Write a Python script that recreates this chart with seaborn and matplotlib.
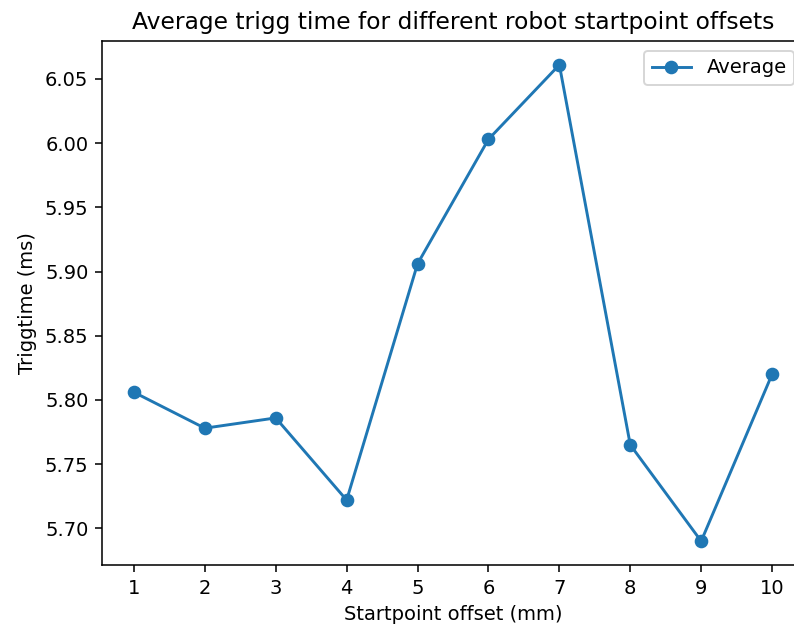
import numpy as np
import pandas as pd
import seaborn as sns
import matplotlib.pyplot as plt

offsets = [1, 2, 3, 4, 5, 6, 7, 8, 9, 10]
avg_trigg = [5.806, 5.778, 5.786, 5.722, 5.906, 6.003, 6.061, 5.765, 5.690, 5.820]

df = pd.DataFrame({"offset": offsets, "trigg": avg_trigg})

dpi = 140
fig = plt.figure(figsize=(794 / dpi, 629 / dpi), dpi=dpi)
# axes run past the right edge, as in the cropped original
ax = fig.add_axes([102 / 794, 64 / 629, 702 / 794, 524 / 629])

sns.lineplot(ax=ax, data=df, x="offset", y="trigg", marker="o", color="#1f77b4",
             markeredgecolor="#1f77b4", markeredgewidth=1, markersize=6,
             linewidth=1.5, label="Average")

ax.set_xticks(offsets)
ax.set_xlabel("Startpoint offset (mm)")
ax.set_ylabel("Triggtime (ms)")
ax.set_title("Average trigg time for different robot startpoint offsets")
ax.legend(loc="upper right")

plt.savefig("out.png", dpi=dpi)
